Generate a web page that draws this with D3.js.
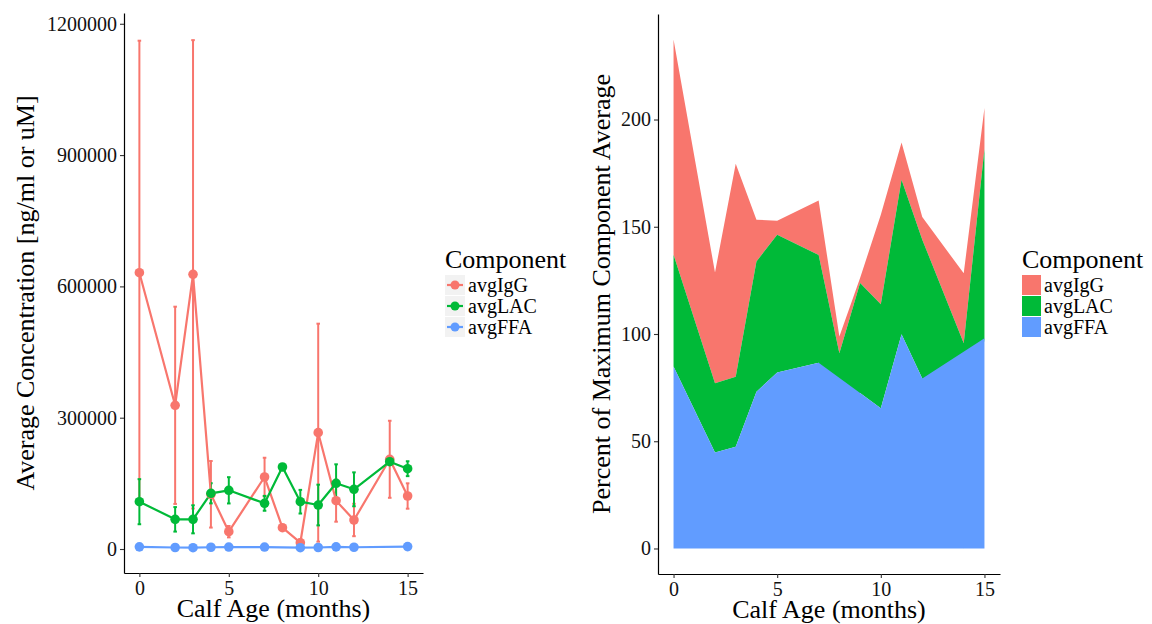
<!DOCTYPE html>
<html>
<head>
<meta charset="utf-8">
<script src="https://cdnjs.cloudflare.com/ajax/libs/d3/7.8.5/d3.min.js"></script>
<style>
body { margin: 0; background: #fff; }
svg { display: block; font-family: "Liberation Serif", "Times New Roman", serif; }
</style>
</head>
<body>
<svg width="1152" height="624"></svg>
<script>

var components = ['avgIgG', 'avgLAC', 'avgFFA'];
var colors = ['#F8766D', '#00BA38', '#619CFF'];

var months = [0, 2, 3, 4, 5, 7, 8, 9, 10, 11, 12, 14, 15];

// left panel: component averages and sd (null = missing)
var iggAvg = [631300, 328300, 627600, 125000, 39600, 164500, 48700, 14400, 265800, 110400, 66300, 205000, 121100];
var iggSd  = [530000, 225300, 535000, 76000, 13000, 44000, null, 8000, 249000, 48000, 37000, 88000, 29000];
var lacAvg = [108100, 67800, 67800, 127300, 134100, 104400, 187400, 108100, 100500, 150100, 136400, 199500, 183500];
var lacSd  = [51500, 28000, 32000, 23000, 30000, 17000, null, 27000, 46500, 43400, 38700, 6000, 17000];
var ffaAvg = [5000, 3500, 3000, 4000, 4500, 4500, null, 3000, 3500, 5000, 4000, null, 5500];
var ffaSd  = [1000, 800, 800, 900, 900, 900, null, 800, 800, 1000, 900, null, 1000];

// right panel: percent of maximum component average
var iggPct = [100.4, 51.7, 99.3, 19.5, 6.5, 25.5, 7.8, 2.3, 41.7, 17.4, 10.5, 32.6, 19.2];
var lacPct = [52.1, 32.2, 32.7, 60.7, 64.3, 50.2, 91.0, 51.3, 48.5, 72.0, 64.8, 95.7, 88.2];
var ffaPct = [84.8, 44.8, 47.4, 73.1, 82.0, 86.6, null, 72.5, 65.4, 99.9, 79.2, null, 98.0];

var xTicks = [0, 5, 10, 15];
var yTicksLeft = [0, 300000, 600000, 900000, 1200000];
var yTicksRight = [0, 50, 100, 150, 200];

var svg = d3.select('svg');

var TICK_FONT = 20;
var TITLE_FONT = 26;

function styleAxis(g){
  g.attr('font-family', null).attr('font-size', null);
  g.select('.domain').attr('stroke', '#000').attr('stroke-width', 1.2);
  g.selectAll('.tick line').attr('stroke', '#333').attr('stroke-width', 1.1);
  g.selectAll('.tick text').attr('font-size', TICK_FONT).attr('fill', '#111');
}

// ---------- left panel ----------
var xL = d3.scaleLinear().domain([-0.86, 15.86]).range([124, 423]);
var yL = d3.scaleLinear().domain([-54800, 1224600]).range([573, 13]);

var leftSeries = [
  {name: 'avgIgG', avg: iggAvg, sd: iggSd},
  {name: 'avgLAC', avg: lacAvg, sd: lacSd},
  {name: 'avgFFA', avg: ffaAvg, sd: ffaSd}
];
leftSeries.forEach(function(s, i){
  s.color = colors[i];
  s.points = months.map(function(m, j){ return {m: m, v: s.avg[j], sd: s.sd[j]}; })
    .filter(function(p){ return p.v != null; });
});

var left = svg.append('g');

left.append('g').attr('transform', 'translate(0,573)')
  .call(d3.axisBottom(xL).tickValues(xTicks).tickSize(4).tickSizeOuter(0).tickPadding(4))
  .call(styleAxis);

left.append('g').attr('transform', 'translate(124,0)')
  .call(d3.axisLeft(yL).tickValues(yTicksLeft).tickFormat(d3.format('d')).tickSize(4).tickSizeOuter(0).tickPadding(3))
  .call(styleAxis);

// error bars
leftSeries.forEach(function(s){
  var eb = left.append('g').attr('stroke', s.color).attr('stroke-width', 2).attr('fill', 'none');
  s.points.filter(function(p){ return p.sd != null; }).forEach(function(p){
    eb.append('line').attr('x1', xL(p.m)).attr('x2', xL(p.m))
      .attr('y1', yL(p.v - p.sd)).attr('y2', yL(p.v + p.sd));
    [p.v - p.sd, p.v + p.sd].forEach(function(e){
      eb.append('line').attr('x1', xL(p.m - 0.1)).attr('x2', xL(p.m + 0.1))
        .attr('y1', yL(e)).attr('y2', yL(e));
    });
  });
});

var line = d3.line().x(function(p){ return xL(p.m); }).y(function(p){ return yL(p.v); });

leftSeries.forEach(function(s){
  left.append('path').datum(s.points)
    .attr('d', line)
    .attr('fill', 'none')
    .attr('stroke', s.color)
    .attr('stroke-width', 2.2)
    .attr('stroke-linejoin', 'round');
});

leftSeries.forEach(function(s){
  left.append('g').selectAll('circle').data(s.points).enter().append('circle')
    .attr('cx', function(p){ return xL(p.m); })
    .attr('cy', function(p){ return yL(p.v); })
    .attr('r', 4.8)
    .attr('fill', s.color);
});

left.append('text')
  .attr('x', 273.5).attr('y', 617)
  .attr('text-anchor', 'middle').attr('font-size', TITLE_FONT)
  .text('Calf Age (months)');

left.append('text')
  .attr('transform', 'translate(34,293) rotate(-90)')
  .attr('text-anchor', 'middle').attr('font-size', TITLE_FONT)
  .text('Average Concentration [ng/ml or uM]');

// left legend
var legL = svg.append('g').attr('transform', 'translate(445,0)');
legL.append('text').attr('x', 0).attr('y', 268).attr('font-size', TITLE_FONT).text('Component');
components.forEach(function(c, i){
  var y = 275 + i * 21;
  legL.append('rect').attr('x', 0).attr('y', y).attr('width', 20).attr('height', 20).attr('fill', '#F2F2F2');
  legL.append('line').attr('x1', 2).attr('x2', 18).attr('y1', y + 10).attr('y2', y + 10)
    .attr('stroke', colors[i]).attr('stroke-width', 2.2);
  legL.append('circle').attr('cx', 10).attr('cy', y + 10).attr('r', 4.5).attr('fill', colors[i]);
  legL.append('text').attr('x', 23).attr('y', y + 17).attr('font-size', TICK_FONT).text(c);
});

// ---------- right panel ----------
var xR = d3.scaleLinear().domain([-0.75, 15.75]).range([658, 1000]);
var yR = d3.scaleLinear().domain([-11.9, 249.2]).range([574, 14]);

var pcts = [iggPct, lacPct, ffaPct];

// stack like ggplot: first component on top, missing values skipped per month
var stacked = components.map(function(c, i){
  var pts = [];
  months.forEach(function(m, j){
    if (pcts[i][j] == null) return;
    var base = 0;
    for (var k = i + 1; k < pcts.length; k++) {
      if (pcts[k][j] != null) base += pcts[k][j];
    }
    pts.push({m: m, y0: base, y1: base + pcts[i][j]});
  });
  return pts;
});

var area = d3.area()
  .x(function(p){ return xR(p.m); })
  .y0(function(p){ return yR(p.y0); })
  .y1(function(p){ return yR(p.y1); });

var right = svg.append('g');

stacked.forEach(function(pts, i){
  right.append('path').datum(pts)
    .attr('d', area)
    .attr('fill', colors[i]);
});

right.append('g').attr('transform', 'translate(0,574)')
  .call(d3.axisBottom(xR).tickValues(xTicks).tickSize(4).tickSizeOuter(0).tickPadding(4))
  .call(styleAxis);

right.append('g').attr('transform', 'translate(658,0)')
  .call(d3.axisLeft(yR).tickValues(yTicksRight).tickSize(4).tickSizeOuter(0).tickPadding(3))
  .call(styleAxis);

right.append('text')
  .attr('x', 829).attr('y', 618)
  .attr('text-anchor', 'middle').attr('font-size', TITLE_FONT)
  .text('Calf Age (months)');

right.append('text')
  .attr('transform', 'translate(610,294) rotate(-90)')
  .attr('text-anchor', 'middle').attr('font-size', TITLE_FONT)
  .text('Percent of Maximum Component Average');

// right legend
var legR = svg.append('g').attr('transform', 'translate(1022,0)');
legR.append('text').attr('x', 0).attr('y', 268).attr('font-size', TITLE_FONT).text('Component');
components.forEach(function(c, i){
  var y = 275 + i * 21;
  legR.append('rect').attr('x', 0).attr('y', y).attr('width', 19).attr('height', 20).attr('fill', colors[i]);
  legR.append('text').attr('x', 22).attr('y', y + 17).attr('font-size', TICK_FONT).text(c);
});

</script>
</body>
</html>
